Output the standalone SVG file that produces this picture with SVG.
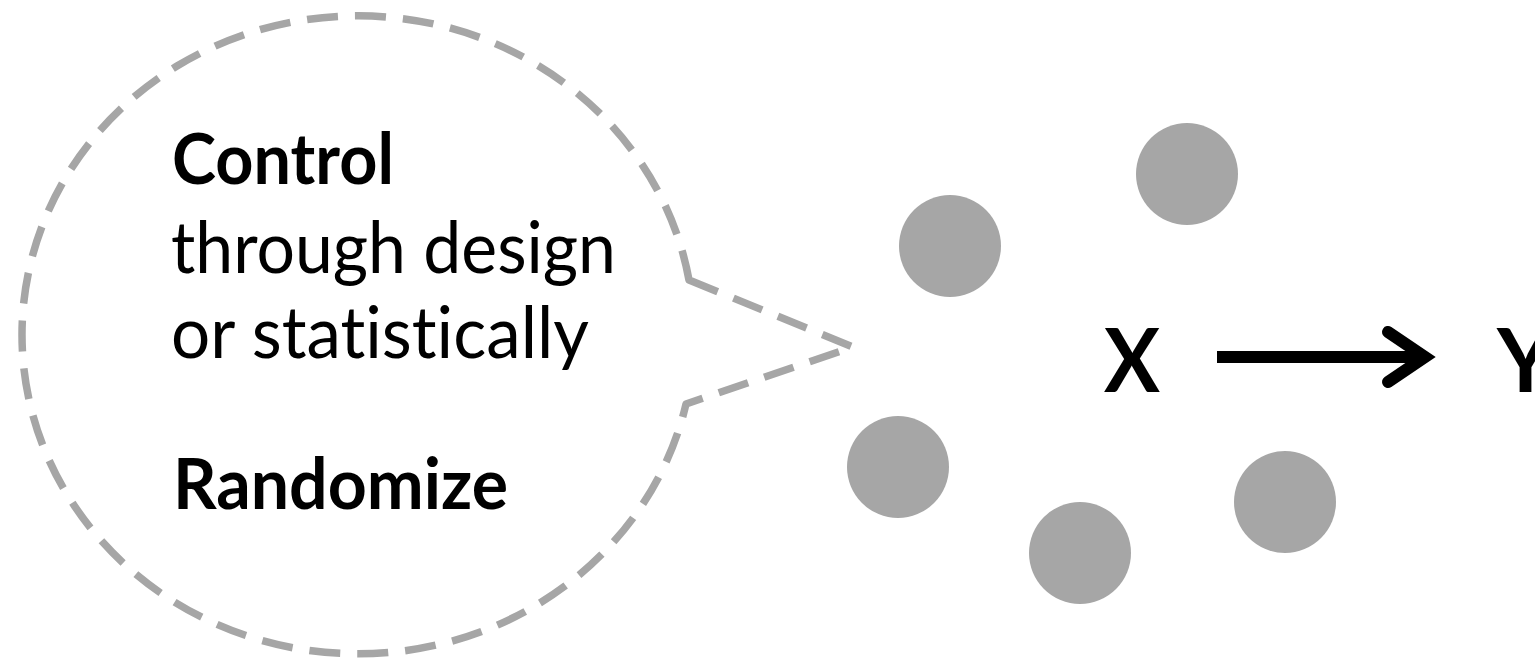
<svg xmlns="http://www.w3.org/2000/svg" width="1535" height="658" viewBox="0 0 1535 658">
  <style>
    .bubble { fill: none; stroke: #a6a6a6; stroke-width: 7.5; stroke-dasharray: 31 17; stroke-linejoin: round; }
    .dot { fill: #a6a6a6; }
    .t { font-family: Lato, "Open Sans", "Liberation Sans", sans-serif; fill: #000; font-variant-ligatures: none; }
    .reg { font-size: 71px; font-weight: 400; }
    .bold { font-size: 70px; font-weight: 700; }
    .var { font-size: 88px; font-weight: 700; }
    .conn { fill: none; stroke: #000; stroke-width: 12; }
  </style>
  <rect width="1535" height="658" fill="#fff"/>
  <g id="bubble">
    <path class="bubble" d="M 689 280 L 853 347 L 686 404 A 336 319 0 1 1 689 280 Z"/>
    <text class="t bold" x="172" y="184" textLength="222" lengthAdjust="spacingAndGlyphs">Control</text>
    <text class="t reg" x="171" y="273" textLength="445" lengthAdjust="spacingAndGlyphs">through design</text>
    <text class="t reg" x="171" y="358" textLength="418" lengthAdjust="spacingAndGlyphs">or statistically</text>
    <text class="t bold" x="173" y="509" textLength="335" lengthAdjust="spacingAndGlyphs">Randomize</text>
  </g>
  <g id="confounder1"><circle class="dot" cx="950" cy="246" r="51"/></g>
  <g id="confounder2"><circle class="dot" cx="1187" cy="174" r="51"/></g>
  <g id="confounder3"><circle class="dot" cx="898" cy="467" r="51"/></g>
  <g id="confounder4"><circle class="dot" cx="1080" cy="553" r="51"/></g>
  <g id="confounder5"><circle class="dot" cx="1285" cy="502" r="51"/></g>
  <g id="nodeX"><text class="t var" x="1104" y="392" textLength="56" lengthAdjust="spacingAndGlyphs">X</text></g>
  <g id="nodeY"><text class="t var" x="1497" y="392">Y</text></g>
  <g id="connectors">
    <line class="conn" x1="1217" y1="357" x2="1426" y2="357"/>
    <polyline class="conn" points="1388,332 1425,357 1388,382" stroke-linecap="round" stroke-linejoin="miter"/>
  </g>
</svg>
